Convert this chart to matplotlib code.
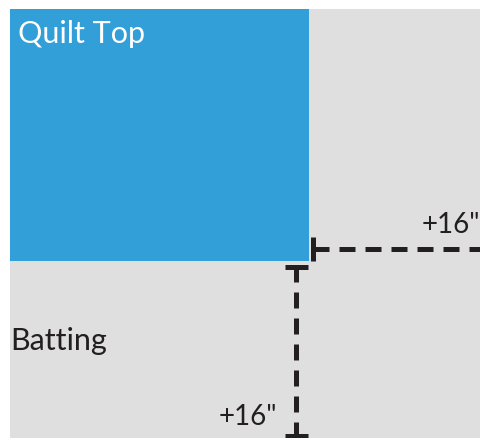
import matplotlib
matplotlib.use("Agg")
import matplotlib.pyplot as plt
from matplotlib.patches import Rectangle

plt.rcParams['lines.scale_dashes'] = False
plt.rcParams['font.family'] = ['Lato', 'DejaVu Sans']

# Diagram data (pixel layout units)
batting_rect = [10, 9, 471, 429]      # x, y, width, height
quilt_rect = [10, 9, 299, 252]
labels = ["Quilt Top", "Batting"]
allowance_label = '+16"'

BLUE = "#339FD9"
GRAY = "#DFDFDF"
DARK = "#231F20"

W, H = 481, 438
fig = plt.figure(figsize=(W / 100, H / 100), dpi=100)
ax = fig.add_axes([0, 0, 1, 1])
ax.set_xlim(0, W)
ax.set_ylim(H, 0)
ax.axis("off")

ax.add_patch(Rectangle((batting_rect[0], batting_rect[1]), batting_rect[2], batting_rect[3],
                       facecolor=GRAY, edgecolor="none"))
ax.add_patch(Rectangle((quilt_rect[0], quilt_rect[1]), quilt_rect[2], quilt_rect[3],
                       facecolor=BLUE, edgecolor="none"))

px = 0.72  # points per pixel at 100 dpi
lw = 5 * px
dash = (0, (16 * px, 10 * px))

# right allowance (horizontal)
hy = 249
ax.plot([313.5, 313.5], [237, 261], color=DARK, lw=lw, solid_capstyle="butt")
ax.plot([313.5, W], [hy, hy], color=DARK, lw=lw, linestyle=dash, dash_capstyle="butt")

# bottom allowance (vertical)
vx = 296.5
ax.plot([285, 308], [266.5, 266.5], color=DARK, lw=lw, solid_capstyle="butt")
ax.plot([vx, vx], [266, H], color=DARK, lw=lw, linestyle=dash, dash_capstyle="butt")
ax.plot([285, 308], [435.5, 435.5], color=DARK, lw=lw, solid_capstyle="butt")

ax.text(18, 43, labels[0], color="white", fontsize=22, va="baseline", ha="left")
ax.text(10, 350, labels[1], color=DARK, fontsize=22, va="baseline", ha="left")
ax.text(480, 233, allowance_label, color=DARK, fontsize=20, va="baseline", ha="right")
ax.text(277, 425, allowance_label, color=DARK, fontsize=20, va="baseline", ha="right")

fig.savefig("out.png", dpi=100, facecolor="white")
